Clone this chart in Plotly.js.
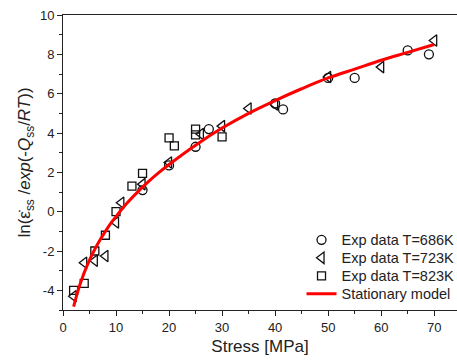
<!DOCTYPE html>
<html>
<head>
<meta charset="utf-8">
<script src="https://cdn.plot.ly/plotly-3.0.1.min.js"></script>
<style>html,body{margin:0;padding:0;background:#fff;}#chart{width:457px;height:360px;}</style>
</head>
<body>
<div id="chart"></div>
<script>
// Exp data T=686K
const x686 = [15, 20, 25, 27.5, 40, 41.5, 50, 55, 65, 69];
const y686 = [1.1, 2.35, 3.3, 4.2, 5.5, 5.2, 6.8, 6.8, 8.2, 8.0];
// Exp data T=723K
const x723 = [2, 4, 6, 8, 10, 11, 15, 20, 26, 30, 35, 40, 50, 60, 70];
const y723 = [-4.3, -2.6, -2.5, -2.25, -0.55, 0.45, 1.4, 2.5, 3.95, 4.35, 5.25, 5.45, 6.85, 7.35, 8.7];
// Exp data T=823K
const x823 = [2, 4, 6, 8, 10, 13, 15, 20, 21, 25, 25, 30];
const y823 = [-4.0, -3.65, -2.0, -1.2, 0.0, 1.3, 1.95, 3.75, 3.35, 4.2, 3.9, 3.8];
// Stationary model
const xModel = [2, 2.5, 3, 3.5, 4, 5, 6, 7, 8, 9, 10, 12, 14, 16, 18, 20, 25, 30, 35, 40, 45, 50, 55, 60, 65, 70];
const yModel = [-4.83, -4.33, -3.87, -3.48, -3.1, -2.46, -1.91, -1.43, -1.0, -0.6, -0.25, 0.41, 0.98, 1.5, 1.97, 2.4, 3.38, 4.25, 5.0, 5.65, 6.25, 6.8, 7.25, 7.7, 8.1, 8.5];

const names = ['Exp data T=686K', 'Exp data T=723K', 'Exp data T=823K', 'Stationary model'];
const xTicks = [0, 10, 20, 30, 40, 50, 60, 70];
const yTicks = [-4, -2, 0, 2, 4, 6, 8, 10];

const mk = (sym, size) => ({symbol: sym, size: size, color: '#111', line: {color: '#111', width: 1.3}});

const data = [
  {x: x686, y: y686, mode: 'markers', type: 'scatter', name: names[0], marker: mk('circle-open', 9)},
  {x: x723, y: y723, mode: 'markers', type: 'scatter', name: names[1], marker: mk('triangle-left-open', 10)},
  {x: x823, y: y823, mode: 'markers', type: 'scatter', name: names[2], marker: mk('square-open', 8)},
  {x: xModel, y: yModel, mode: 'lines', type: 'scatter', name: names[3], line: {color: '#ff0000', width: 3, shape: 'spline'}}
];

const axisFont = {family: 'Liberation Sans, Arial, sans-serif', size: 13, color: '#222'};

const layout = {
  width: 457, height: 360,
  margin: {l: 63, r: 0, t: 15, b: 50},
  paper_bgcolor: '#fff', plot_bgcolor: '#fff',
  showlegend: true,
  legend: {
    x: 0.58, y: 0.292, xanchor: 'left', yanchor: 'top',
    bgcolor: 'rgba(0,0,0,0)',
    font: {family: 'Liberation Sans, Arial, sans-serif', size: 14.5, color: '#222'},
    tracegroupgap: 0, itemwidth: 30
  },
  xaxis: {
    range: [0, 74.3], tickvals: xTicks, ticktext: xTicks.map(String),
    showgrid: false, zeroline: false,
    showline: true, linecolor: '#222', linewidth: 1, mirror: true,
    ticks: 'outside', ticklen: 5, tickcolor: '#222', tickwidth: 1,
    minor: {dtick: 5, ticks: 'outside', ticklen: 3, tickcolor: '#222', tickwidth: 1},
    tickfont: axisFont,
    title: {text: 'Stress [MPa]', font: {family: 'Liberation Sans, Arial, sans-serif', size: 17, color: '#222'}, standoff: 6}
  },
  yaxis: {
    range: [-5, 10], tickvals: yTicks, ticktext: yTicks.map(String),
    showgrid: false, zeroline: false,
    showline: true, linecolor: '#222', linewidth: 1, mirror: false,
    ticks: 'outside', ticklen: 5, tickcolor: '#222', tickwidth: 1,
    minor: {dtick: 1, ticks: 'outside', ticklen: 3, tickcolor: '#222', tickwidth: 1},
    tickfont: axisFont,
    title: {text: 'ln(ε̇<sub>ss</sub> /<i>exp</i>(-<i>Q</i><sub>ss</sub>/<i>RT</i>))', font: {family: 'Liberation Sans, Arial, sans-serif', size: 17, color: '#222'}, standoff: 4}
  }
};

const gd = document.getElementById('chart');
const parseT = el => {
  const m = /translate\(\s*([-\d.e]+)[ ,]+([-\d.e]+)\s*\)/.exec(el.getAttribute('transform') || '');
  return m ? [parseFloat(m[1]), parseFloat(m[2])] : [0, 0];
};
Plotly.newPlot(gd, data, layout, {displayModeBar: false, staticPlot: true}).then(() => {
  // tighten legend row spacing (18px per row) and nudge it right, as in the reference
  const rows = gd.querySelectorAll('.legend .traces');
  if (rows.length) {
    const y0 = parseT(rows[0])[1];
    rows.forEach((el, i) => {
      const xi = parseT(el)[0];
      el.setAttribute('transform', 'translate(' + xi + ',' + (y0 + i * 18) + ')');
    });
  }
  const lg = gd.querySelector('g.legend');
  if (lg) {
    const [lx, ly] = parseT(lg);
    lg.setAttribute('transform', 'translate(' + (lx + 10) + ',' + ly + ')');
  }
});
</script>
</body>
</html>
